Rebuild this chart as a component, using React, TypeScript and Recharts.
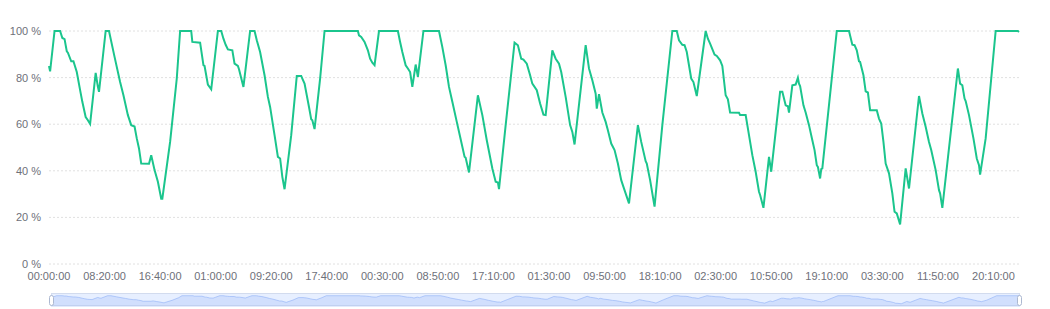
import { Area, AreaChart, CartesianGrid, Line, LineChart, XAxis, YAxis } from "recharts";

// sample index (10 min steps) of each vertex
const pointIndex = [
  0, 1, 5, 10, 12, 14, 16, 17, 20, 22, 25, 28, 30, 33, 35, 37, 42, 44, 45, 51,
  54, 59, 64, 67, 71, 74, 77, 79, 81, 83, 90, 92, 95, 98, 101, 102, 109, 115, 118, 128,
  129, 136, 139, 140, 143, 146, 152, 155, 157, 159, 161, 165, 167, 170, 171, 175, 181, 185, 187, 190,
  194, 197, 199, 203, 206, 208, 210, 212, 218, 223, 227, 228, 230, 234, 236, 237, 239, 244, 248, 278,
  279, 281, 284, 287, 289, 291, 293, 297, 314, 316, 318, 321, 323, 325, 327, 330, 332, 337, 351, 354,
  357, 360, 363, 367, 370, 374, 375, 378, 386, 390, 394, 399, 402, 404, 405, 411, 419, 422, 425, 427,
  430, 433, 435, 439, 442, 445, 447, 453, 456, 459, 461, 465, 469, 471, 473, 483, 486, 489, 492, 493,
  495, 498, 501, 503, 506, 509, 512, 515, 517, 522, 530, 533, 537, 538, 541, 545, 552, 561, 565, 567,
  570, 572, 574, 575, 578, 580, 583, 591, 593, 595, 599, 601, 604, 606, 609, 611, 613, 621, 622, 627,
  630, 633, 636, 639, 640, 643, 648, 650, 658, 660, 663, 665, 666, 669, 672, 674, 675, 676, 679, 681,
  684, 687, 689, 691, 692, 694, 695, 696, 709, 720, 723, 725, 727, 729, 730, 733, 735, 737, 739, 745,
  747, 749, 751, 753, 756, 759, 761, 763, 766, 771, 774, 783, 786, 789, 792, 794, 798, 801, 802, 804,
  818, 820, 822, 824, 825, 828, 832, 835, 837, 838, 843, 852, 872, 873,
];

const usagePct = [
  85, 82.7, 100, 100, 97, 96.5, 91.3, 90.7, 87, 87, 82.4, 74.6, 69.6, 63.1, 61.7, 60.1, 82, 76, 73.9, 100,
  100, 88.9, 78.1, 72.4, 63.9, 59.6, 59, 53.9, 49.6, 43.1, 43, 46.7, 40.3, 35.3, 28, 28, 52.4, 79.6, 100, 100,
  95.3, 95, 85.3, 85, 77, 75, 100, 100, 96.7, 94.1, 92.1, 91.7, 86, 85, 83.6, 76, 100, 100, 96, 91,
  81, 71.7, 67.4, 55.3, 46, 45.3, 37.4, 32.1, 55.3, 80.7, 80.7, 79.6, 77.4, 67.4, 62.1, 61.7, 57.9, 79.6, 100, 100,
  98.1, 97.4, 95.3, 91.7, 88.1, 86.4, 85.3, 100, 100, 95.3, 91, 85.3, 83.9, 82.4, 76, 85.6, 80.3, 100, 100, 93.1,
  85.3, 76, 69.6, 61, 54.6, 46, 45.6, 39.3, 72.4, 63.9, 53.1, 41, 35.3, 35, 32.1, 59.6, 95, 93.9, 88.1, 87.7,
  86, 81, 77.4, 74.6, 68.9, 64.1, 63.9, 91.7, 88.1, 86, 82.4, 71.7, 59.6, 56.7, 51.3, 93.9, 83.9, 78.9, 73.1, 66.7,
  72.9, 65, 61, 57.4, 51.7, 48.9, 43.1, 36, 33.1, 26, 59.6, 52.4, 44.1, 43.1, 36, 24.6, 59.6, 100, 100, 96,
  94.1, 93.9, 91, 88.1, 79.6, 78.1, 72.1, 100, 96.7, 94.6, 89.9, 89.3, 87.4, 85, 72.4, 70.7, 65, 64.9, 63.9, 63.9,
  55.3, 46.7, 39.6, 31, 29.6, 24.1, 46, 39.6, 73.9, 73.9, 68.1, 67.7, 65, 76.7, 77, 79.9, 77.4, 76.4, 68.1, 65,
  59.6, 53.1, 48.9, 42.4, 41.7, 36.7, 40.7, 41, 100, 100, 94.1, 93.9, 91.7, 87, 86.7, 81, 74.1, 73.6, 66, 66,
  62.4, 60.3, 52.4, 43.1, 38.9, 30.3, 22.4, 21.7, 17, 41, 32.4, 72.1, 64.6, 58.9, 52.4, 48.9, 40.3, 31.7, 30.3, 24.1,
  83.9, 77.4, 76.7, 71, 69.9, 63.9, 53.9, 45.3, 42.4, 38.4, 53.9, 100, 100, 99.6,
];

const tickIndex = [0, 50, 100, 150, 200, 250, 300, 350, 400, 450, 500, 550, 600, 650, 700, 750, 800, 850];
const tickLabels = [
  "00:00:00", "08:20:00", "16:40:00", "01:00:00", "09:20:00", "17:40:00",
  "00:30:00", "08:50:00", "17:10:00", "01:30:00", "09:50:00", "18:10:00",
  "02:30:00", "10:50:00", "19:10:00", "03:30:00", "11:50:00", "20:10:00",
];
const yTicks = [0, 20, 40, 60, 80, 100];

const lastIndex = 873;

const data = pointIndex.map((idx, i) => ({ idx, value: usagePct[i] }));

const labelOf = (idx: number) => tickLabels[tickIndex.indexOf(idx)] ?? "";

const axisTick = { fontSize: 11, fill: "#6e7079", fontFamily: "'Liberation Sans', Arial, sans-serif" };

function Handle({ left }: { left: number }) {
  return (
    <div
      style={{
        position: "absolute",
        left,
        top: 295,
        width: 3,
        height: 9,
        borderRadius: 3,
        border: "1px solid #acb8d1",
        background: "#fff",
      }}
    />
  );
}

export default function App() {
  return (
    <div style={{ position: "absolute", left: 0, top: 0, width: 1050, height: 309, background: "#fff" }}>
      <LineChart width={1050} height={290} data={data} margin={{ top: 31, right: 31, bottom: 0, left: 0 }}>
        <CartesianGrid stroke="#e0e0e0" strokeDasharray="2 2" vertical={false} />
        <XAxis
          dataKey="idx"
          type="number"
          domain={[0, lastIndex]}
          ticks={tickIndex}
          tickFormatter={labelOf}
          interval={0}
          axisLine={false}
          tickLine={false}
          height={26}
          tick={axisTick}
        />
        <YAxis
          domain={[0, 100]}
          ticks={yTicks}
          tickFormatter={(v: number) => `${v} %`}
          axisLine={false}
          tickLine={false}
          width={49}
          tick={axisTick}
        />
        <Line
          type="linear"
          dataKey="value"
          stroke="#1bc58d"
          strokeWidth={2}
          dot={false}
          isAnimationActive={false}
        />
      </LineChart>

      <div
        style={{
          position: "absolute",
          left: 51,
          top: 293,
          width: 969,
          height: 13,
          border: "1px solid #d2dbee",
          background: "rgba(135,175,255,0.2)",
          boxSizing: "border-box",
        }}
      />
      <div style={{ position: "absolute", left: 51, top: 293 }}>
        <AreaChart width={969} height={14} data={data} margin={{ top: 0, right: 0, bottom: 0, left: 0 }}>
          <XAxis dataKey="idx" type="number" domain={[0, lastIndex]} hide />
          <YAxis domain={[-16, 128]} hide />
          <Area
            type="linear"
            dataKey="value"
            baseValue={-16}
            stroke="#8fb0f7"
            strokeWidth={0.6}
            fill="#8fb0f7"
            fillOpacity={0.25}
            dot={false}
            isAnimationActive={false}
          />
        </AreaChart>
      </div>
      <Handle left={49} />
      <Handle left={1017} />
    </div>
  );
}
